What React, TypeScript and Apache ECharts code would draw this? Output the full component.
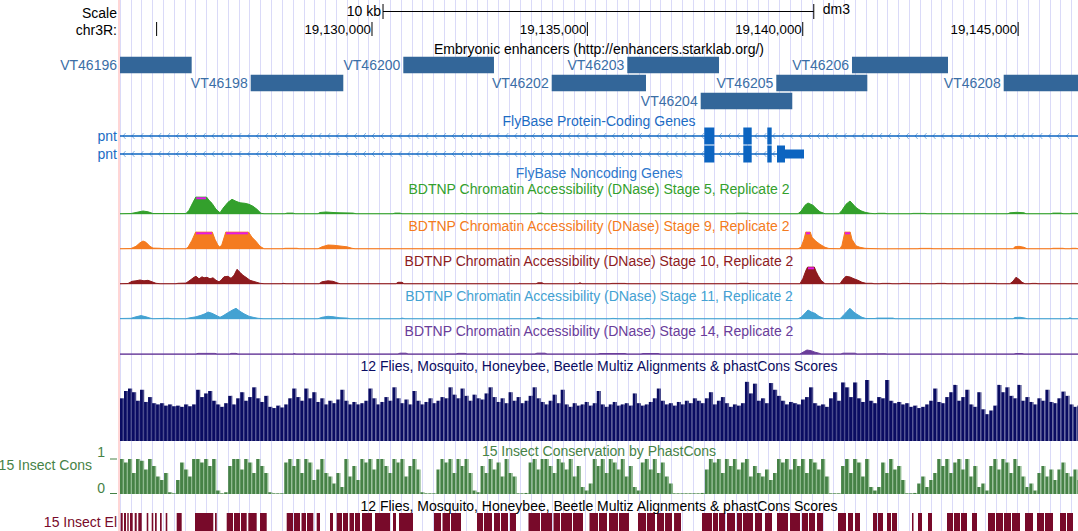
import React, { useEffect, useRef } from "react";
import * as echarts from "echarts";

// Browser window chr3R:19,124,150-19,146,390 (dm3). Positions below are bp offsets from WINDOW_START.
const WINDOW_START = 19124150;
const WINDOW_SPAN = 22240;
const GUIDE_STEP = 251;

const RULER_TICKS = [19125000, 19130000, 19135000, 19140000, 19145000];
const RULER_LABELS = ["", "19,130,000", "19,135,000", "19,140,000", "19,145,000"];
const SCALE_BAR = [6106, 16106];
const ASSEMBLY = "dm3";

const ENH_NAMES = ["VT46196", "VT46198", "VT46200", "VT46202", "VT46203", "VT46204", "VT46205", "VT46206", "VT46208"];
const ENH_START = [-1200, 3034, 6577, 10022, 11777, 13481, 15236, 16993, 20515];
const ENH_END = [1664, 5184, 8682, 12211, 13906, 15607, 17349, 19222, 22700];
const ENH_ROW = [0, 1, 0, 1, 0, 2, 1, 0, 1];

const GENE_NAMES = ["pnt", "pnt"];
const GENE_TX_START = [-6000, -6000];
const GENE_TX_END = [30000, 15879];
const GENE_CDS = [
  [[13564, 13797], [14470, 14665], [15027, 15129]],
  [[13564, 13797], [14470, 14665], [15027, 15129], [15252, 15438]],
];
const GENE_UTR = [[], [[15438, 15879]]];

// DNase signal, [offset, value]; values above DNASE_MAX are clipped
const DNASE_MAX = 17;
const STAGE5 = [[0,0.6],[255,0.8],[395,2],[534,3.3],[650,2.5],[766,0.8],[1532,0.8],[1602,4],[1695,12],[1770,18],[1996,18],[2066,14],[2136,11],[2229,5],[2322,1.5],[2391,6],[2507,12],[2600,15],[2693,13],[2786,11.5],[2902,11],[2995,10],[3088,8],[3180,5],[3273,1],[3343,0.6],[3830,0.6],[3877,1.2],[4016,1.2],[4063,0.6],[4597,0.6],[4643,1.8],[4782,2.3],[4945,1.8],[5107,1.5],[5409,1.2],[5479,0.6],[6338,0.6],[6384,1.2],[6500,1.2],[6547,0.6],[7893,0.6],[7940,1],[7986,0.6],[9657,0.6],[9704,1.2],[9797,1.2],[9843,0.6],[14277,0.6],[14324,1.1],[14579,1.1],[14625,0.6],[15740,0.6],[15809,3],[15902,9],[15972,11.3],[16088,9],[16181,5],[16250,2.5],[16367,0.6],[16692,0.6],[16761,4],[16854,10],[16947,13.3],[17040,9],[17109,6],[17202,3.5],[17295,2],[17411,1],[17528,0.6],[17597,1],[17759,1],[17806,0.6],[18363,0.6],[18409,0.9],[18688,0.9],[18735,0.6],[20615,0.6],[20661,1.5],[20824,2],[20986,1.5],[21033,0.6],[21613,0.6],[21659,1.2],[21845,1.2],[21892,0.6],[22054,0.6],[22101,1],[22194,1],[22240,0.6]];
const STAGE9 = [[0,0.6],[255,0.8],[371,3],[464,6.5],[534,8.3],[604,7],[696,3],[766,1.2],[929,1],[998,0.6],[1532,0.6],[1579,2],[1671,9],[1764,18],[2136,18],[2205,10],[2275,4],[2322,2],[2368,5],[2461,18],[2972,18],[3064,12],[3157,8],[3250,3],[3343,0.6],[3784,0.6],[3830,1],[4109,1],[4155,0.6],[4597,0.6],[4689,2.5],[4829,4.3],[4968,4],[5107,3.3],[5270,2.5],[5386,1],[5456,0.6],[11097,0.6],[11399,0.8],[11445,0.6],[15740,0.6],[15809,2],[15879,10],[15925,18],[16018,18],[16064,12],[16158,8],[16250,5],[16367,2],[16459,0.8],[16715,0.6],[16761,4],[16831,18],[16947,18],[16993,10],[17086,3.5],[17179,2],[17295,1],[17411,0.8],[17667,0.5],[18525,0.6],[18572,0.9],[18827,0.9],[18874,0.6],[20731,0.6],[20777,2.5],[20870,3],[20986,2],[21056,0.6],[21613,0.6],[21659,1],[21892,1],[21938,0.6],[22054,0.6],[22101,1],[22194,1],[22240,0.6]];
const STAGE10 = [[0,0.6],[186,0.8],[279,3],[371,3.5],[464,4.3],[557,3.5],[650,4],[743,2.5],[836,1],[929,0.6],[1300,0.6],[1346,1],[1532,1.2],[1625,4],[1718,7],[1764,8],[1834,5.5],[1904,7.5],[1950,6.5],[2020,7],[2089,5.5],[2159,6.5],[2229,4],[2298,2.5],[2345,4],[2414,7.5],[2507,8],[2577,6],[2647,9],[2716,15],[2786,12],[2855,9],[2925,7],[3018,4],[3134,2.5],[3250,1],[3343,0.6],[3761,0.6],[3784,1],[3854,0.6],[4620,0.6],[4689,2.5],[4829,3.5],[4945,3],[5038,1.5],[5107,0.6],[6407,0.6],[6454,2],[6547,2],[6593,0.6],[9657,0.6],[9704,1.5],[9797,1.5],[9843,0.6],[10632,0.6],[10679,1.5],[10725,0.6],[11375,0.6],[11422,0.9],[11724,0.9],[11770,0.6],[14347,0.6],[14393,1],[14579,1],[14625,0.6],[15786,0.6],[15856,6],[15925,14],[15972,18],[16111,18],[16158,13],[16204,9],[16274,4],[16367,0.6],[16715,0.6],[16784,5],[16854,8],[16947,7.3],[17040,5.5],[17133,4],[17225,2],[17318,1],[17458,1],[17504,0.6],[17643,0.6],[17690,0.9],[17876,0.9],[17922,0.6],[18108,0.6],[18154,0.9],[18293,0.9],[18340,0.6],[18920,0.6],[18967,0.9],[19152,0.9],[19199,0.6],[19686,0.6],[19733,0.9],[20313,0.9],[20360,0.6],[20661,0.6],[20731,3],[20800,7],[20870,5],[20940,2],[21009,0.6],[21126,0.6],[21172,0.9],[21265,0.9],[21311,0.6],[22240,0.6]];
const STAGE11 = [[0,0.8],[255,1],[371,2.5],[488,3.7],[604,2.5],[696,1.2],[766,0.6],[929,0.8],[1114,1],[1207,0.6],[1532,0.6],[1625,1.5],[1764,2.5],[1880,4],[1973,5.5],[2043,7.3],[2136,6],[2229,4],[2322,2],[2391,3.5],[2484,6],[2600,9],[2693,11],[2786,8],[2879,5.5],[2995,3],[3111,1.8],[3204,1],[3320,0.6],[3947,0.6],[3993,0.9],[4039,0.6],[4597,0.6],[4689,2],[4829,3],[4945,2.6],[5107,1.5],[5270,1.2],[5339,0.6],[6500,0.6],[6547,1.2],[6616,0.6],[9657,0.6],[9704,2],[9773,1],[9820,0.6],[11375,0.6],[11445,0.9],[11561,0.6],[12188,0.6],[12234,0.9],[12304,0.6],[15740,0.6],[15809,2],[15902,6],[15972,9.3],[16064,7],[16134,6],[16227,3],[16343,0.8],[16715,0.6],[16784,3.5],[16877,8],[16947,11],[17040,7],[17109,5],[17225,2],[17318,0.8],[17528,0.8],[17574,1.2],[17945,1.2],[17992,0.6],[20731,0.6],[20777,1.8],[20894,2],[21009,1.2],[21056,0.6],[22008,0.6],[22054,1.5],[22101,0.6],[22240,0.6]];
const STAGE14 = [[0,0.8],[1764,0.8],[1811,1.3],[2205,1.3],[2252,0.8],[2554,0.8],[2577,1.3],[2693,1.3],[2739,0.8],[4016,0.8],[4039,1.2],[4086,0.8],[6454,0.8],[6500,1.5],[6639,1.5],[6686,0.8],[7800,0.8],[7847,1.3],[8009,1.3],[8056,0.8],[9634,0.8],[9681,1.5],[9866,1.5],[9913,0.8],[11097,0.8],[11143,1.2],[11724,1.2],[11770,0.8],[12095,0.8],[12141,1.2],[12490,1.2],[12536,0.8],[15786,0.8],[15856,2.5],[15948,4.7],[16042,4],[16134,2.5],[16227,1.5],[16274,0.8],[16738,0.8],[16784,1.5],[17063,1.5],[17109,0.8],[17759,1],[17806,0.8],[20754,0.8],[20800,1.2],[20940,1.2],[20986,0.8],[22240,0.8]];

// 12-way multiz / phastCons score, fixed step of 93 bp from the window start
const CONS_STEP = 93;
const MULTIZ = [0.7,0.82,0.86,0.8,0.66,0.84,0.64,0.72,0.62,0.6,0.62,0.58,0.6,0.57,0.58,0.56,0.6,0.57,0.6,0.84,0.72,0.78,0.82,0.66,0.6,0.56,0.62,0.74,0.6,0.7,0.8,0.66,0.72,0.88,0.7,0.64,0.74,0.56,0.54,0.58,0.55,0.6,0.7,0.86,0.72,0.66,0.86,0.7,0.8,0.64,0.7,0.6,0.66,0.62,0.68,0.84,0.66,0.6,0.64,0.6,
0.62,0.66,0.86,0.7,0.6,0.64,0.72,0.66,0.88,0.7,0.62,0.68,0.6,0.82,0.66,0.6,0.64,0.7,0.62,0.66,0.72,0.7,0.88,0.76,0.7,0.86,0.74,0.66,0.76,0.7,0.68,0.78,0.88,0.72,0.64,0.7,0.62,0.8,0.66,0.72,0.62,0.66,0.74,0.88,0.7,0.64,0.6,0.66,0.76,0.62,0.84,0.6,0.56,0.62,0.58,0.6,0.64,0.58,0.62,0.82,0.6,0.56,0.6,0.64,0.58,0.6,0.62,0.58,0.78,0.62,0.58,0.6,0.64,0.7,0.86,0.66,0.6,0.62,0.58,0.64,0.6,0.66,0.62,0.7,0.66,
0.62,0.7,0.8,0.6,0.66,0.72,0.62,0.56,0.6,0.58,0.62,0.97,0.78,0.94,0.66,0.7,0.62,0.95,0.84,0.74,0.66,0.6,0.64,0.62,0.6,0.68,0.72,0.88,0.62,0.58,0.6,0.56,0.7,0.8,0.66,0.96,0.88,0.72,0.96,0.7,0.64,1.0,0.66,0.62,0.72,0.7,1.0,0.66,0.62,0.64,0.6,0.62,0.56,0.58,0.54,0.56,0.6,0.66,0.86,0.64,0.62,0.72,0.8,0.92,0.66,0.72,0.84,0.6,0.56,0.8,0.52,0.44,0.5,0.58,0.92,0.8,0.88,0.74,0.7,0.92,0.66,0.72,0.64,0.6,0.7,0.66,0.84,0.64,0.62,0.7,0.81,0.74,0.6,0.56,0.58];
const PHASTCONS = [1,0.9,1,0.6,1,0.95,0.7,1,0.8,
0.5,0.4,0.6,0.05,0.02,0.4,
0.9,0.7,0.5,1,1,0.9,1,0.8,1,
0.1,0.02,0.05,
0.8,1,1,0.7,1,0.9,0.6,1,0.8,0.6,
0.05,0.02,0.02,0.02,
0.9,1,0.8,1,0.6,1,0.9,0.4,0.7,1,0.6,0.5,
0.3,0.6,0.2,1,0.5,0.8,0.4,
1,0.9,1,0.7,1,1,0.8,0.6,1,0.9,1,0.5,0.8,1,0.7,
0.05,0.02,0.02,0.02,
0.7,1,0.9,1,0.6,1,0.8,1,0.6,
0.1,0.05,
0.8,0.6,1,0.7,0.9,0.5,1,0.6,0.5,
0.02,0.02,0.03,
0.9,1,0.7,1,1,0.8,0.6,1,0.9,0.7,1,0.5,0.8,
0.2,0.1,0.3,
1,0.8,1,0.6,1,0.9,0.7,1,0.5,0.8,
0.2,0.1,
0.9,1,0.7,1,0.6,0.9,0.5,0.3,
0.02,0.02,0.02,0.02,0.02,0.02,0.02,0.03,
0.7,1,0.9,1,0.6,1,0.8,1,0.7,0.9,1,0.5,0.8,0.6,
0.5,0.7,0.4,0.6,
1,0.9,1,0.7,1,0.8,1,0.6,1,0.9,0.7,1,0.5,
0.02,0.02,0.02,
0.8,1,0.6,1,0.9,0.5,1,
0.2,0.1,0.2,
0.9,0.6,1,0.7,0.8,0.4,
0.02,0.02,0.03,
0.3,0.5,0.2,0.4,0.6,
1,0.8,1,0.6,0.9,1,0.7,1,0.5,0.8,
0.2,0.3,0.1,
0.8,1,0.7,1,0.9,0.6,1,0.8,0.5,
0.2,0.3,0.1,
0.6,0.8,0.5,0.7,0.4,0.7,0.9,0.6,0.5,0.7,0.4];

// 15 insect conserved elements, [start, end] offsets
const ELEMENTS = [[16,63],[93,139],[169,202],[232,295],[341,388],[425,504],[620,657],[736,773],[813,852],[929,968],[1061,1098],[1316,1432],[1741,2166],[2205,2245],
[2477,2623],[2647,2786],[2809,2941],[2979,3173],[3250,3406],
[3870,4016],[4039,4179],[4214,4318],[4341,4488],[4566,4643],[4875,4945],
[5031,5154],[5177,5293],[5328,5432],[5456,5572],[5618,5850],[5920,6268],[6338,6407],[6477,6802],
[7290,7452],[7487,7661],[7684,7916],
[8288,8427],[8450,8636],[8682,8822],[8845,9007],[9054,9193],
[9483,9750],[9773,10029],[10064,10215],[10238,10493],[10516,10749],
[10899,11097],[11120,11306],[11352,11561],[11584,11816],
[12025,12212],[12234,12420],[12467,12629],[12653,12815],[12862,13024],
[13511,13743],[13767,13883],[13906,14045],[14092,14277],[14324,14440],[14463,14695],[14742,14904],[14974,15136],[15252,15508],[15554,15786],
[15833,15972],[15995,16134],[16181,16320],[16668,16854],[16901,17017],[17063,17179],
[17481,17574],[17597,17713],[17806,17899],[17922,18038],[18386,18421],[18526,18618],[18758,18851],
[19199,19338],[19361,19501],[19524,19663],[19779,19895],
[20151,20313],[20336,20499],[20522,20685],[20708,20894],[21010,21195],
[21288,21451],[21474,21660],[21822,21961],[21985,22124]];

const FONT_FAMILY = '"Liberation Sans", Arial, Helvetica, sans-serif';
const FONT = `14px ${FONT_FAMILY}`;
const RULER_FONT = `13.3px ${FONT_FAMILY}`;

const DNASE_TRACKS = [
  { title: "BDTNP Chromatin Accessibility (DNase) Stage 5, Replicate 2", data: STAGE5, color: "#33a02c", titleY: 189 },
  { title: "BDTNP Chromatin Accessibility (DNase) Stage 9, Replicate 2", data: STAGE9, color: "#f47b20", titleY: 225.5 },
  { title: "BDTNP Chromatin Accessibility (DNase) Stage 10, Replicate 2", data: STAGE10, color: "#8e1b1e", titleY: 260.8 },
  { title: "BDTNP Chromatin Accessibility (DNase) Stage 11, Replicate 2", data: STAGE11, color: "#44a2d2", titleY: 296 },
  { title: "BDTNP Chromatin Accessibility (DNase) Stage 14, Replicate 2", data: STAGE14, color: "#6a3d9a", titleY: 330.8 },
];

function txt(text: string, x: number, y: number, fill: string, align: string = "center", font: string = FONT) {
  return {
    type: "text",
    x,
    y,
    z: 20,
    silent: true,
    style: { text, fill, font, align, textAlign: align, verticalAlign: "middle", textVerticalAlign: "middle" },
  };
}

export default function App() {
  const ref = useRef<HTMLDivElement>(null);
  useEffect(() => {
    if (!ref.current) return;
    const chart = echarts.init(ref.current, null, { renderer: "svg" });

    const grids: any[] = [
      { top: 0, height: 531 },
      { top: 0, height: 40 },
      { top: 56, height: 54 },
      { top: 127, height: 36 },
      { top: 197.3, height: 17 },
      { top: 232.3, height: 17 },
      { top: 267.3, height: 17 },
      { top: 302.3, height: 17 },
      { top: 337.7, height: 17 },
      { top: 380, height: 61 },
      { top: 459, height: 35 },
      { top: 513, height: 18 },
    ].map((g) => ({ ...g, left: 120, right: 0, containLabel: false }));

    const yRanges: any[] = [
      [0, 1, false], [0, 40, true], [0, 3, true], [0, 2, true],
      [0, DNASE_MAX, false], [0, DNASE_MAX, false], [0, DNASE_MAX, false], [0, DNASE_MAX, false], [0, DNASE_MAX, false],
      [0, 1, false], [0, 1, false], [0, 1, false],
    ];

    const xAxis = grids.map((_, i) => ({
      type: "value",
      gridIndex: i,
      min: 0,
      max: WINDOW_SPAN,
      show: i === 0,
      interval: i === 0 ? GUIDE_STEP : undefined,
      axisLine: { show: false },
      axisTick: { show: false },
      axisLabel: { show: false },
      splitLine: { show: i === 0, lineStyle: { color: "#dadaf8", width: 1 } },
    }));
    const yAxis = yRanges.map((r, i) => ({
      type: "value", gridIndex: i, min: r[0], max: r[1], inverse: r[2], show: false, splitLine: { show: false },
    }));

    const series: any[] = [];

    // chromosome ruler ticks
    series.push({
      type: "custom", xAxisIndex: 1, yAxisIndex: 1, silent: true,
      data: RULER_TICKS.map((p, i) => [p - WINDOW_START, i]),
      renderItem: (params: any, api: any) => {
        const top = api.coord([api.value(0), 22]);
        const bot = api.coord([api.value(0), 36]);
        const mid = api.coord([api.value(0), 29.5]);
        return {
          type: "group",
          children: [
            { type: "line", shape: { x1: top[0], y1: top[1], x2: bot[0], y2: bot[1] }, style: { stroke: "#000", lineWidth: 1 } },
            { type: "text", x: mid[0] - 1, y: mid[1], style: { text: RULER_LABELS[api.value(1)], fill: "#000", font: RULER_FONT, align: "right", textAlign: "right", verticalAlign: "middle", textVerticalAlign: "middle" } },
          ],
        };
      },
    });
    // scale bar
    series.push({
      type: "custom", xAxisIndex: 1, yAxisIndex: 1, silent: true,
      data: [[SCALE_BAR[0], SCALE_BAR[1]]],
      renderItem: (params: any, api: any) => {
        const a = api.coord([api.value(0), 11.5]);
        const b = api.coord([api.value(1), 11.5]);
        const t0 = api.coord([0, 4])[1];
        const t1 = api.coord([0, 19])[1];
        const kb = Math.round((api.value(1) - api.value(0)) / 1000);
        return {
          type: "group",
          children: [
            { type: "line", shape: { x1: a[0], y1: a[1], x2: b[0], y2: b[1] }, style: { stroke: "#000", lineWidth: 1 } },
            { type: "line", shape: { x1: a[0], y1: t0, x2: a[0], y2: t1 }, style: { stroke: "#000", lineWidth: 1 } },
            { type: "line", shape: { x1: b[0], y1: t0, x2: b[0], y2: t1 }, style: { stroke: "#000", lineWidth: 1 } },
            { type: "text", x: a[0] - 2, y: 11, style: { text: `${kb} kb`, fill: "#000", font: FONT, align: "right", textAlign: "right", verticalAlign: "middle", textVerticalAlign: "middle" } },
            { type: "text", x: b[0] + 9, y: 8.5, style: { text: ASSEMBLY, fill: "#000", font: FONT, align: "left", textAlign: "left", verticalAlign: "middle", textVerticalAlign: "middle" } },
          ],
        };
      },
    });

    // enhancers
    series.push({
      type: "custom", xAxisIndex: 2, yAxisIndex: 2, silent: true,
      data: ENH_NAMES.map((_, i) => [ENH_START[i], ENH_END[i], ENH_ROW[i], i]),
      renderItem: (params: any, api: any) => {
        const cs = params.coordSys;
        const s = api.coord([api.value(0), api.value(2)]);
        const e = api.coord([api.value(1), api.value(2) + 1]);
        const x0 = Math.max(s[0], cs.x);
        const x1 = Math.min(e[0], cs.x + cs.width);
        const rowTop = Math.min(s[1], e[1]);
        const rowH = Math.abs(e[1] - s[1]);
        return {
          type: "group",
          children: [
            { type: "rect", shape: { x: x0, y: rowTop + 0.7, width: x1 - x0, height: rowH - 1.4 }, style: { fill: "#336699" } },
            { type: "text", x: x0 - 3, y: rowTop + rowH / 2, style: { text: ENH_NAMES[api.value(3)], fill: "#3b6ea6", font: FONT, align: "right", textAlign: "right", verticalAlign: "middle", textVerticalAlign: "middle" } },
          ],
        };
      },
    });

    // genes
    series.push({
      type: "custom", xAxisIndex: 3, yAxisIndex: 3, silent: true,
      data: GENE_NAMES.map((_, i) => [i]),
      renderItem: (params: any, api: any) => {
        const i = params.dataIndex;
        const cs = params.coordSys;
        const yTop = api.coord([0, i])[1];
        const yBot = api.coord([0, i + 1])[1];
        const yc = (yTop + yBot) / 2;
        const px = (v: number) => api.coord([v, i])[0];
        const xs = Math.max(px(GENE_TX_START[i]), cs.x);
        const xe = Math.min(px(GENE_TX_END[i]), cs.x + cs.width);
        const children: any[] = [];
        for (let x = xs + 3; x < xe - 3; x += 8.9) {
          children.push({ type: "polyline", shape: { points: [[x + 2.6, yc - 3], [x, yc], [x + 2.6, yc + 3]] }, style: { stroke: "#86b4e6", lineWidth: 1, fill: null } });
        }
        children.push({ type: "line", shape: { x1: xs, y1: yc, x2: xe, y2: yc }, style: { stroke: "#0c64c0", lineWidth: 1.5 } });
        GENE_CDS[i].forEach((ex) => {
          const a = px(ex[0]), b = px(ex[1]);
          children.push({ type: "rect", shape: { x: a, y: yc - 8.5, width: b - a, height: 17 }, style: { fill: "#0c64c0" } });
        });
        GENE_UTR[i].forEach((ex) => {
          const a = px(ex[0]), b = px(ex[1]);
          children.push({ type: "rect", shape: { x: a, y: yc - 4.5, width: b - a, height: 9 }, style: { fill: "#0c64c0" } });
        });
        children.push({ type: "text", x: xs - 3, y: yc, style: { text: GENE_NAMES[i], fill: "#1c6cc4", font: FONT, align: "right", textAlign: "right", verticalAlign: "middle", textVerticalAlign: "middle" } });
        return { type: "group", children };
      },
    });

    // DNase tracks
    DNASE_TRACKS.forEach((t, k) => {
      const gi = 4 + k;
      series.push({
        type: "line", xAxisIndex: gi, yAxisIndex: gi, silent: true, clip: true,
        data: t.data, showSymbol: false, symbol: "none",
        lineStyle: { color: t.color, width: 1 },
        areaStyle: { color: t.color, opacity: 1 },
      });
      const clipped: number[][] = [];
      for (let j = 0; j + 1 < t.data.length; j++) {
        if (t.data[j][1] > DNASE_MAX && t.data[j + 1][1] > DNASE_MAX) clipped.push([t.data[j][0], t.data[j + 1][0]]);
      }
      if (clipped.length) {
        series.push({
          type: "custom", xAxisIndex: gi, yAxisIndex: gi, silent: true, z: 5,
          data: clipped,
          renderItem: (params: any, api: any) => {
            const a = api.coord([api.value(0), DNASE_MAX]);
            const b = api.coord([api.value(1), DNASE_MAX]);
            return { type: "rect", shape: { x: a[0], y: a[1], width: b[0] - a[0], height: 2 }, style: { fill: "#e619e6" } };
          },
        });
      }
    });

    // conservation wiggles: one column per step, dark body with a pale streak
    const columns = (values: number[], gi: number, color: string, pale: string) => ({
      type: "custom", xAxisIndex: gi, yAxisIndex: gi, silent: true,
      data: values.map((v, i) => [i * CONS_STEP, (i + 1) * CONS_STEP, v]),
      renderItem: (params: any, api: any) => {
        const a = api.coord([api.value(0), api.value(2)]);
        const b = api.coord([api.value(1), 0]);
        const w = b[0] - a[0];
        const h = b[1] - a[1];
        return {
          type: "group",
          children: [
            { type: "rect", shape: { x: a[0], y: a[1], width: w * 0.72, height: h }, style: { fill: color } },
            { type: "rect", shape: { x: a[0] + w * 0.72, y: a[1], width: w * 0.28 + 0.2, height: h }, style: { fill: pale } },
          ],
        };
      },
    });
    series.push(columns(MULTIZ, 9, "#0a0c62", "#4b4d8e"));
    series.push(columns(PHASTCONS, 10, "#468246", "#8db98d"));

    series.push({
      type: "custom", xAxisIndex: 11, yAxisIndex: 11, silent: true,
      data: ELEMENTS,
      renderItem: (params: any, api: any) => {
        const a = api.coord([api.value(0), 1]);
        const b = api.coord([api.value(1), 0]);
        return { type: "rect", shape: { x: a[0], y: a[1], width: Math.max(1, b[0] - a[0]), height: b[1] - a[1] }, style: { fill: "#780a2a" } };
      },
    });

    const CENTER = 599;
    const graphic: any[] = [
      { type: "rect", z: 10, silent: true, shape: { x: 118, y: 0, width: 2, height: 531 }, style: { fill: "#ffd6d6" } },
      txt("Scale", 117, 12.5, "#000", "right"),
      txt("chr3R:", 117, 29.5, "#000", "right"),
      txt("Embryonic enhancers (http://enhancers.starklab.org/)", CENTER, 49, "#000"),
      txt("FlyBase Protein-Coding Genes", CENTER, 120.5, "#1c6cc4"),
      txt("FlyBase Noncoding Genes", CENTER, 173, "#2e78cc"),
      ...DNASE_TRACKS.map((t) => txt(t.title, CENTER, t.titleY, t.color)),
      txt("12 Flies, Mosquito, Honeybee, Beetle Multiz Alignments & phastCons Scores", CENTER, 366, "#0a0c62"),
      txt("15 Insect Conservation by PhastCons", CENTER, 451, "#468246"),
      txt("12 Flies, Mosquito, Honeybee, Beetle Multiz Alignments & phastCons Scores", CENTER, 506, "#000"),
      txt("15 Insect Cons", 92, 465, "#468246", "right"),
      txt("1", 105, 452, "#468246", "right"),
      txt("0", 105, 488, "#468246", "right"),
      { type: "line", z: 10, silent: true, shape: { x1: 110, y1: 459, x2: 117, y2: 459 }, style: { stroke: "#468246", lineWidth: 1 } },
      { type: "line", z: 10, silent: true, shape: { x1: 110, y1: 493.5, x2: 117, y2: 493.5 }, style: { stroke: "#468246", lineWidth: 1 } },
      txt("15 Insect El", 117, 522, "#780a2a", "right"),
    ];

    chart.setOption({
      animation: false,
      backgroundColor: "#ffffff",
      grid: grids,
      xAxis,
      yAxis,
      series,
      graphic,
    });
    return () => chart.dispose();
  }, []);
  return <div ref={ref} style={{ position: "fixed", left: 0, top: 0, width: 1078, height: 531, background: "#fff" }} />;
}
